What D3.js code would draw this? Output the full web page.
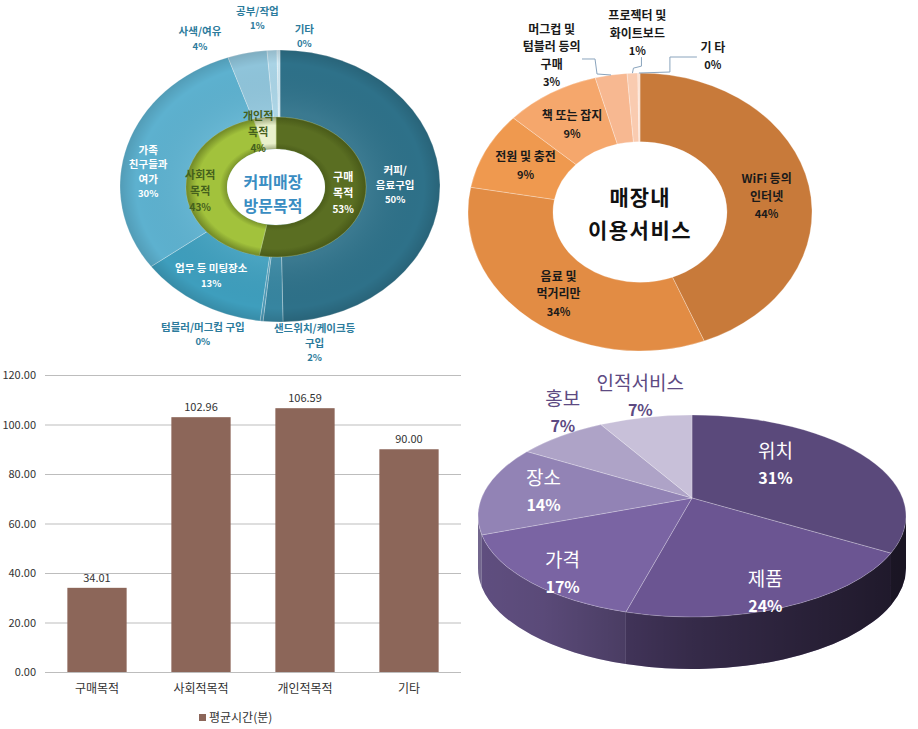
<!DOCTYPE html>
<html>
<head>
<meta charset="utf-8">
<script src="https://cdn.jsdelivr.net/npm/d3@7"></script>
<style>
  body { margin: 0; background: #fff; }
  svg { display: block; }
  text { font-family: "Noto Sans CJK KR", "Noto Sans", sans-serif; }
</style>
</head>
<body>
<div id="chart"></div>
<script>
// ---- data ----
// 커피매장 방문목적: inner ring (group) and outer ring (detail)
const purposeGroups = ["구매\n목적", "사회적\n목적", "개인적\n목적"];
const purposeGroupValues = [53, 43, 4];
const purposeItems = ["커피/\n음료구입", "샌드위치/케이크등\n구입", "텀블러/머그컵 구입", "업무 등 미팅장소",
                      "가족\n친구들과\n여가", "사색/여유", "공부/작업", "기타"];
const purposeItemValues = [50, 2, 0.3, 13, 30, 4, 1, 0.3];

// 매장내 이용서비스
const serviceItems = ["WiFi 등의\n인터넷", "음료 및\n먹거리만", "전원 및 충전", "책 또는 잡지",
                      "머그컵 및\n텀블러 등의\n구매", "프로젝터 및\n화이트보드", "기 타"];
const serviceValues = [44, 34, 9, 9, 3, 1, 0.2];

// 평균시간(분)
const barCategories = ["구매목적", "사회적목적", "개인적목적", "기타"];
const barValues = [34.01, 102.96, 106.59, 90.00];
const barTicks = [0, 20, 40, 60, 80, 100, 120];
const barSeriesName = "평균시간(분)";

// 3D pie
const factorItems = ["위치", "제품", "가격", "장소", "홍보", "인적서비스"];
const factorValues = [31, 24, 17, 14, 7, 7];

// ---- colours / label layout ----
const purposeGroupColors = ["#5a6e22", "#a2c23c", "#e9f1cc"];
const purposeGroupText = ["#ffffff", "#44601c", "#44601c"];
const purposeItemColors = ["#2e7189", "#3785a0", "#4a97b4", "#3e9ebd", "#5db1cf", "#8fc4da", "#a9d3e5", "#c9e4ef"];
const purposeItemText = ["#fff", "#2c7b9c", "#2c7b9c", "#fff", "#fff", "#2c7b9c", "#2c7b9c", "#2c7b9c"];
// f = radius factor along mid angle, dx/dy nudges
const purposeItemLabel = [
  {f: 0.72, dx: 0, dy: 0}, {f: 1.2, dx: 43, dy: -6}, {f: 1.2, dx: -55, dy: -14}, {f: 0.8, dx: -4, dy: -4},
  {f: 0.85, dx: -2, dy: 20}, {f: 1.1, dx: -44, dy: -1}, {f: 1.2, dx: -13, dy: -5}, {f: 1.1, dx: 26, dy: 0}
];
const purposeGroupLabel = [{f: 0.75, dx: 0, dy: 1}, {f: 0.82, dx: -2, dy: 2}, {f: 0.78, dx: -9, dy: -1}];

const serviceColors = ["#c87a3a", "#e28c44", "#ef994f", "#f5a76c", "#f7b891", "#f9cbb0", "#fce0d0"];
const serviceLabel = [
  {f: 0.75, dx: 0, dy: 4}, {f: 0.75, dx: 0, dy: 1}, {f: 0.75, dx: 1, dy: 0}, {f: 0.75, dx: -1, dy: 2},
  {f: 1.15, dx: -55, dy: 1}, {f: 1.28, dx: 7, dy: -1}, {f: 1.12, dx: 74, dy: 0}
];

const factorColors = ["#5a497b", "#6b5592", "#7a64a3", "#9283b5", "#aea3c7", "#c8c0d9"];
const factorText = ["#fff", "#fff", "#fff", "#fff", "#5d4a82", "#5d4a82"];
const factorLabel = [
  {f: 0.5, dx: -5, dy: -15}, {f: 0.75, dx: 5, dy: 12}, {f: 0.75, dx: -9, dy: 11},
  {f: 0.75, dx: 7, dy: -2}, {f: 1, dx: 2, dy: -24}, {f: 1, dx: -5, dy: -21}
];

const W = 918, H = 729;
const svg = d3.select("#chart").append("svg").attr("width", W).attr("height", H);
const defs = svg.append("defs");

const pct = v => Math.round(v) + "%";

function blockText(g, x, y, name, value, opt) {
  const lines = name.split("\n");
  if (value !== null) lines.push(pct(value));
  const n = lines.length;
  lines.forEach((ln, i) => {
    const isPct = value !== null && i === n - 1;
    g.append("text")
      .attr("x", x)
      .attr("y", y + (i - (n - 1) / 2) * opt.lh + opt.size * 0.36)
      .attr("text-anchor", "middle")
      .attr("font-size", isPct ? opt.pctSize : opt.size)
      .attr("font-weight", "bold")
      .attr("fill", opt.color)
      .text(ln);
  });
}

// point on ellipse, angle measured clockwise from top
function ep(cx, cy, rx, ry, a) {
  return [cx + rx * Math.sin(a), cy - ry * Math.cos(a)];
}

// ================= chart 1 : 커피매장 방문목적 =================
{
  const cx = 280, cy = 186, rx = 160, ry = 136;
  const icx = 276, icy = 187, irx = 90, iry = 70, holeR = 49;
  const pie = d3.pie().sort(null).value(d => d);
  const outerArcs = pie(purposeItemValues);
  const innerArcs = pie(purposeGroupValues);

  const g = svg.append("g");
  const outer = g.append("g").attr("transform", `translate(${cx},${cy}) scale(1,${ry / rx})`);
  const arcO = d3.arc().innerRadius(0).outerRadius(rx);
  outer.selectAll("path").data(outerArcs).join("path")
    .attr("d", arcO)
    .attr("fill", (d, i) => purposeItemColors[i])
    .attr("stroke", "#ffffff").attr("stroke-opacity", 0.35)
    .attr("stroke-width", 0.8).attr("vector-effect", "non-scaling-stroke");

  const shadeO = defs.append("radialGradient").attr("id", "shadeO");
  shadeO.append("stop").attr("offset", "0.55").attr("stop-color", "#fff").attr("stop-opacity", 0.06);
  shadeO.append("stop").attr("offset", "0.9").attr("stop-color", "#000").attr("stop-opacity", 0);
  shadeO.append("stop").attr("offset", "1").attr("stop-color", "#000").attr("stop-opacity", 0.12);
  outer.append("circle").attr("r", rx).attr("fill", "url(#shadeO)");

  const inner = g.append("g").attr("transform", `translate(${icx},${icy}) scale(1,${iry / irx})`);
  const arcI = d3.arc().innerRadius(holeR).outerRadius(irx);
  inner.selectAll("path").data(innerArcs).join("path")
    .attr("d", arcI)
    .attr("fill", (d, i) => purposeGroupColors[i])
    .attr("stroke", "#c8d890").attr("stroke-opacity", 0.6)
    .attr("stroke-width", 0.8).attr("vector-effect", "non-scaling-stroke");

  const bevel = defs.append("radialGradient").attr("id", "bevelI");
  bevel.append("stop").attr("offset", holeR / irx).attr("stop-color", "#33410c").attr("stop-opacity", 0.35);
  bevel.append("stop").attr("offset", holeR / irx + 0.08).attr("stop-color", "#33410c").attr("stop-opacity", 0);
  bevel.append("stop").attr("offset", "0.88").attr("stop-color", "#33410c").attr("stop-opacity", 0);
  bevel.append("stop").attr("offset", "1").attr("stop-color", "#33410c").attr("stop-opacity", 0.45);
  inner.append("path").attr("d", d3.arc().innerRadius(holeR).outerRadius(irx)({startAngle: 0, endAngle: 2 * Math.PI}))
    .attr("fill", "url(#bevelI)");
  inner.append("circle").attr("r", holeR).attr("fill", "#ffffff");

  // centre title
  g.append("text").attr("x", icx - 3).attr("y", 188).attr("text-anchor", "middle")
    .attr("font-size", 16).attr("font-weight", "bold").attr("fill", "#3a8dc2").text("커피매장");
  g.append("text").attr("x", icx - 3).attr("y", 212).attr("text-anchor", "middle")
    .attr("font-size", 16).attr("font-weight", "bold").attr("fill", "#3a8dc2").text("방문목적");

  outerArcs.forEach((d, i) => {
    const m = (d.startAngle + d.endAngle) / 2, L = purposeItemLabel[i];
    const [x, y] = ep(cx, cy, rx * L.f, ry * L.f, m);
    blockText(g, x + L.dx, y + L.dy, purposeItems[i], purposeItemValues[i],
      {size: 10.5, pctSize: 9.5, lh: 14.5, color: purposeItemText[i]});
  });
  innerArcs.forEach((d, i) => {
    const m = (d.startAngle + d.endAngle) / 2, L = purposeGroupLabel[i];
    const [x, y] = ep(icx, icy, irx * L.f, iry * L.f, m);
    blockText(g, x + L.dx, y + L.dy, purposeGroups[i], purposeGroupValues[i],
      {size: 11, pctSize: 10, lh: 16, color: purposeGroupText[i]});
  });
}

// ================= chart 2 : 매장내 이용서비스 =================
{
  const cx = 640, cy = 212, rx = 172, ry = 139, holeR = 87;
  const arcs = d3.pie().sort(null).value(d => d)(serviceValues);
  const g = svg.append("g");
  const ring = g.append("g").attr("transform", `translate(${cx},${cy}) scale(1,${ry / rx})`);
  ring.selectAll("path").data(arcs).join("path")
    .attr("d", d3.arc().innerRadius(holeR).outerRadius(rx))
    .attr("fill", (d, i) => serviceColors[i])
    .attr("stroke", "#ffffff").attr("stroke-opacity", 0.35)
    .attr("stroke-width", 0.8).attr("vector-effect", "non-scaling-stroke");

  g.append("text").attr("x", cx).attr("y", 205).attr("text-anchor", "middle")
    .attr("font-size", 21).attr("font-weight", "bold").attr("letter-spacing", 1).attr("fill", "#111").text("매장내");
  g.append("text").attr("x", cx).attr("y", 238).attr("text-anchor", "middle")
    .attr("font-size", 21).attr("font-weight", "bold").attr("letter-spacing", 1.5).attr("fill", "#111").text("이용서비스");

  arcs.forEach((d, i) => {
    const m = (d.startAngle + d.endAngle) / 2, L = serviceLabel[i];
    const [x, y] = ep(cx, cy, rx * L.f, ry * L.f, m);
    blockText(g, x + L.dx, y + L.dy, serviceItems[i], serviceValues[i],
      {size: 12, pctSize: 11, lh: 17.5, color: "#1a1a1a"});
  });

  // leader lines for the small outside slices
  const line = d3.line();
  const leaders = [
    {i: 4, pts: (p) => [p, [p[0] - 14, p[1] - 1], [p[0] - 16, p[1] - 16], [p[0] - 29, p[1] - 16]]},
    {i: 5, pts: (p) => [p, [p[0] + 1, p[1] - 5], [p[0] + 9, p[1] - 7], [p[0] + 9, p[1] - 16]]},
    {i: 6, pts: (p) => [p, [p[0] + 31, p[1] - 1], [p[0] + 31, p[1] - 16], [p[0] + 58, p[1] - 16]]}
  ];
  leaders.forEach(l => {
    const d = arcs[l.i];
    const p = ep(cx, cy, rx, ry, (d.startAngle + d.endAngle) / 2);
    g.append("path").attr("d", line(l.pts(p))).attr("fill", "none")
      .attr("stroke", "#8aa4bd").attr("stroke-width", 1);
  });
}

// ================= chart 3 : bar chart =================
{
  const left = 45, right = 461, top = 375, bottom = 672;
  const x = d3.scaleBand().domain(barCategories).range([left, right]).paddingInner(0.43).paddingOuter(0.215);
  const y = d3.scaleLinear().domain([0, 120]).range([bottom, top]);
  const g = svg.append("g");

  const yAxis = g.append("g").attr("transform", `translate(${left},0)`)
    .call(d3.axisLeft(y).tickValues(barTicks).tickFormat(d3.format(".2f")).tickSize(-(right - left)).tickPadding(9));
  yAxis.select(".domain").remove();
  yAxis.selectAll(".tick line").attr("stroke", "#bdbdbd").attr("stroke-width", 1);
  yAxis.selectAll(".tick text").attr("font-size", 11).attr("fill", "#333")
    .attr("font-family", "\"Noto Sans CJK KR\", sans-serif");

  g.selectAll("rect.bar").data(barValues).join("rect").attr("class", "bar")
    .attr("x", (d, i) => x(barCategories[i]))
    .attr("y", d => y(d))
    .attr("width", x.bandwidth())
    .attr("height", d => bottom - y(d))
    .attr("fill", "#8c6659");

  g.selectAll("text.val").data(barValues).join("text").attr("class", "val")
    .attr("x", (d, i) => x(barCategories[i]) + x.bandwidth() / 2)
    .attr("y", d => y(d) - 6)
    .attr("text-anchor", "middle").attr("font-size", 11).attr("fill", "#333")
    .text(d => d.toFixed(2));

  const xAxis = g.append("g").attr("transform", `translate(0,${bottom})`)
    .call(d3.axisBottom(x).tickSize(0).tickPadding(12));
  xAxis.select(".domain").remove();
  xAxis.selectAll(".tick text").attr("font-size", 12).attr("fill", "#333")
    .attr("font-family", "\"Noto Sans CJK KR\", sans-serif");

  g.append("rect").attr("x", 199).attr("y", 714).attr("width", 7).attr("height", 7).attr("fill", "#8c6659");
  g.append("text").attr("x", 209).attr("y", 722).attr("font-size", 12).attr("fill", "#333").text(barSeriesName);
}

// ================= chart 4 : 3D pie =================
{
  const cx = 692, cy = 516, rx = 214, ry = 101, depth = 52;
  const apex = [692, 498];
  const arcs = d3.pie().sort(null).value(d => d)(factorValues);
  const g = svg.append("g");
  const P = a => ep(cx, cy, rx, ry, a);

  // lighting across the side wall: darker toward the right
  const side = defs.append("linearGradient").attr("id", "side3d")
    .attr("gradientUnits", "userSpaceOnUse").attr("x1", cx - rx).attr("x2", cx + rx).attr("y1", 0).attr("y2", 0);
  [["0", 0.22], ["0.15", 0.26], ["0.5", 0.5], ["1", 0.72]]
    .forEach(s => side.append("stop").attr("offset", s[0]).attr("stop-color", "#000").attr("stop-opacity", s[1]));

  // side walls (front half only)
  arcs.forEach((d, i) => {
    const s = Math.max(d.startAngle, Math.PI / 2), e = Math.min(d.endAngle, 3 * Math.PI / 2);
    if (e <= s) return;
    const p0 = P(s), p1 = P(e);
    const path = `M${p0[0]},${p0[1]} A${rx},${ry} 0 0 1 ${p1[0]},${p1[1]} L${p1[0]},${p1[1] + depth} ` +
                 `A${rx},${ry} 0 0 0 ${p0[0]},${p0[1] + depth} Z`;
    g.append("path").attr("d", path).attr("fill", factorColors[i]);
    g.append("path").attr("d", path).attr("fill", "url(#side3d)");
  });

  // top faces
  arcs.forEach((d, i) => {
    const p0 = P(d.startAngle), p1 = P(d.endAngle);
    const large = d.endAngle - d.startAngle > Math.PI ? 1 : 0;
    const path = `M${apex[0]},${apex[1]} L${p0[0]},${p0[1]} A${rx},${ry} 0 ${large} 1 ${p1[0]},${p1[1]} Z`;
    g.append("path").attr("d", path).attr("fill", factorColors[i])
      .attr("stroke", "#ffffff").attr("stroke-opacity", 0.3).attr("stroke-width", 0.8);
  });

  arcs.forEach((d, i) => {
    const m = (d.startAngle + d.endAngle) / 2, L = factorLabel[i];
    const p = P(m);
    const x = apex[0] + (p[0] - apex[0]) * L.f + L.dx;
    const y = apex[1] + (p[1] - apex[1]) * L.f + L.dy;
    g.append("text").attr("x", x).attr("y", y - 6).attr("text-anchor", "middle")
      .attr("font-size", 19).attr("fill", factorText[i]).text(factorItems[i]);
    g.append("text").attr("x", x).attr("y", y + 20).attr("text-anchor", "middle")
      .attr("font-size", 16).attr("font-weight", "bold").attr("fill", factorText[i]).text(pct(factorValues[i]));
  });
}
</script>
</body>
</html>
